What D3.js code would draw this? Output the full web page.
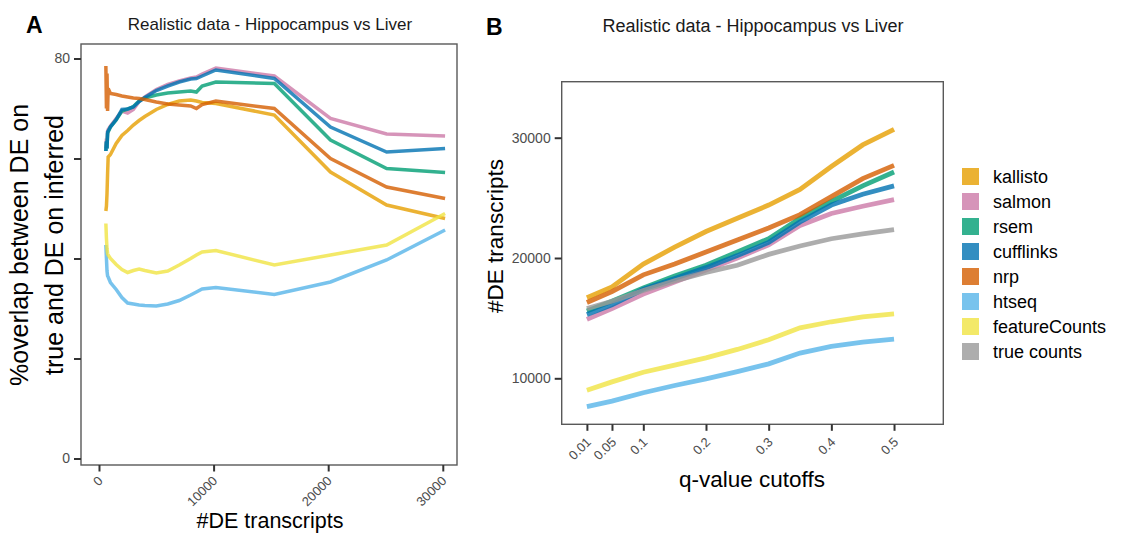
<!DOCTYPE html>
<meta charset="utf-8">
<head>
<style>
  body { margin: 0; background: #fff; }
  svg text { font-family: "Liberation Sans", Arial, Helvetica, sans-serif; }
  .tick text { fill: #4d4d4d; }
  .tick line { stroke: #333; stroke-width: 2; }
</style>
</head>
<body>
<script src="https://d3js.org/d3.v7.min.js"></script>
<script>

// ---- data ----
var methods = ["kallisto", "salmon", "rsem", "cufflinks", "nrp", "htseq", "featureCounts", "true counts"];
var colors  = ["#E69F00", "#CC79A7", "#009E73", "#0072B2", "#D55E00", "#56B4E9", "#F0E442", "#999999"];

// panel A: #DE transcripts vs % overlap
var deTranscripts = [600, 650, 700, 750, 800, 1000, 1500, 2000, 2500, 3000, 3500, 4000, 5000, 6000, 7000, 8000, 8500, 9000, 10200, 15300, 20200, 25100, 30200];
var overlapKallisto = [49.5, 50.5, 53, 57, 60.3, 60.8, 63, 64.6, 65.6, 66.7, 67.6, 68.4, 69.8, 70.8, 71.5, 71.7, 71.5, 71.2, 71.0, 68.7, 57.3, 50.7, 48.0];
var overlapSalmon   = [62, 64, 63, 65.5, 65.8, 66.5, 68, 69.5, 69.1, 69.8, 71.4, 72.3, 73.8, 74.8, 75.5, 76.1, 76.3, 76.9, 78.1, 76.5, 68.0, 64.9, 64.5];
var overlapRsem     = [61.5, 63.3, 62, 65, 65.3, 66.3, 67.7, 69.5, 69.9, 70.4, 71.5, 72.1, 72.7, 73.1, 73.3, 73.5, 73.3, 74.5, 75.3, 75.0, 63.7, 58.0, 57.2];
var overlapCuff     = [61.5, 63.5, 62, 65.3, 65.5, 66.3, 67.8, 69.8, 69.9, 70.3, 71.4, 72.2, 73.6, 74.5, 75.3, 75.9, 76.0, 76.5, 77.7, 76.0, 66.3, 61.3, 62.0];
var overlapNrp      = [78.5, 70, 77, 69.5, 74, 73, 72.8, 72.5, 72.3, 72.1, 72.0, 71.8, 71.3, 70.9, 70.7, 70.5, 70.0, 70.8, 71.5, 70.0, 60.0, 54.3, 52.0];
var overlapHtseq    = [42.7, 40, 37.5, 36.5, 36.3, 35.2, 33.8, 32.2, 31.1, 30.9, 30.7, 30.6, 30.5, 30.9, 31.6, 32.7, 33.3, 33.9, 34.2, 32.8, 35.3, 39.7, 45.7];
var overlapFC       = [47, 44, 42, 41, 40.7, 40, 38.8, 37.8, 37.2, 37.6, 37.9, 37.6, 37.1, 37.5, 38.7, 40.0, 40.7, 41.3, 41.6, 38.7, 40.7, 42.7, 49.0];

// panel B: q-value cutoff vs #DE transcripts
var qCutoffs = [0.01, 0.05, 0.1, 0.15, 0.2, 0.25, 0.3, 0.35, 0.4, 0.45, 0.5];
var deKallisto = [16700, 17600, 19500, 20900, 22200, 23300, 24400, 25700, 27600, 29400, 30700];
var deSalmon   = [14900, 15800, 17000, 18000, 19000, 20000, 21100, 22700, 23700, 24300, 24850];
var deRsem     = [15600, 16400, 17500, 18500, 19400, 20500, 21600, 23300, 24700, 26000, 27150];
var deCuff     = [15300, 16100, 17400, 18300, 19200, 20200, 21300, 23000, 24400, 25300, 26000];
var deNrp      = [16300, 17200, 18600, 19500, 20500, 21500, 22500, 23600, 25100, 26600, 27700];
var deHtseq    = [7650, 8100, 8800, 9400, 9950, 10550, 11200, 12100, 12650, 13000, 13250];
var deFC       = [9000, 9700, 10500, 11100, 11700, 12400, 13200, 14200, 14700, 15100, 15350];
var deTrue     = [15800, 16400, 17300, 18100, 18800, 19400, 20300, 21000, 21600, 22000, 22350];

var xTicksA = [0, 10000, 20000, 30000];
var yTicksA = [0, 20, 40, 60, 80];
var yTickLabelsA = ["0", "", "", "", "80"];
var xTicksB = [0.01, 0.05, 0.1, 0.2, 0.3, 0.4, 0.5];
var yTicksB = [10000, 20000, 30000];

var title = "Realistic data - Hippocampus vs Liver";

var seriesA = [overlapKallisto, overlapSalmon, overlapRsem, overlapCuff, overlapNrp, overlapHtseq, overlapFC];
var seriesB = [deKallisto, deSalmon, deRsem, deCuff, deNrp, deHtseq, deFC, deTrue];

var color = d3.scaleOrdinal().domain(methods).range(colors);

var svg = d3.select("body").append("svg")
    .attr("width", 1125)
    .attr("height", 533);

// ---- panel A ----
var pa = {left: 81, right: 457, top: 44, bottom: 465};
var xA = d3.scaleLinear().domain([-1570, 31240]).range([pa.left, pa.right]);
var yA = d3.scaleLinear().domain([-1.3, 82.9]).range([pa.bottom, pa.top]);

var gA = svg.append("g");

var lineA = d3.line()
    .x(function(d, i) { return xA(deTranscripts[i]); })
    .y(function(d) { return yA(d); });

gA.selectAll(".lineA")
    .data(seriesA)
    .enter().append("path")
    .attr("class", "lineA")
    .attr("d", lineA)
    .attr("fill", "none")
    .attr("stroke", function(d, i) { return color(methods[i]); })
    .attr("stroke-opacity", 0.8)
    .attr("stroke-width", 3.5);

gA.append("rect")
    .attr("x", pa.left).attr("y", pa.top)
    .attr("width", pa.right - pa.left).attr("height", pa.bottom - pa.top)
    .attr("fill", "none").attr("stroke", "#595959").attr("stroke-width", 1.4);

var axA_x = gA.append("g")
    .attr("transform", "translate(0," + pa.bottom + ")")
    .call(d3.axisBottom(xA).tickValues(xTicksA).tickSize(6.5).tickSizeOuter(0).tickFormat(d3.format("d")));
axA_x.select(".domain").remove();
axA_x.selectAll("text")
    .attr("y", null).attr("dy", "0.71em")
    .style("font-size", "13px")
    .style("text-anchor", "end")
    .attr("transform", "translate(-2.5,10) rotate(-45)");

var axA_y = gA.append("g")
    .attr("transform", "translate(" + pa.left + ",0)")
    .call(d3.axisLeft(yA).tickValues(yTicksA).tickSize(7).tickPadding(4).tickSizeOuter(0)
      .tickFormat(function(d, i) { return yTickLabelsA[i]; }));
axA_y.select(".domain").remove();
axA_y.selectAll("text").style("font-size", "14px");

gA.append("text")
    .attr("x", 270).attr("y", 30)
    .attr("text-anchor", "middle")
    .style("font-size", "17px").style("fill", "#1a1a1a")
    .text(title);

gA.append("text")
    .attr("x", 26).attr("y", 33)
    .style("font-size", "23px").style("font-weight", "bold")
    .text("A");

gA.append("text")
    .attr("transform", "translate(28,245) rotate(-90)")
    .attr("text-anchor", "middle")
    .style("font-size", "25px")
    .text("%overlap between DE on");
gA.append("text")
    .attr("transform", "translate(63,245) rotate(-90)")
    .attr("text-anchor", "middle")
    .style("font-size", "25px")
    .text("true and DE on inferred");

gA.append("text")
    .attr("x", 270).attr("y", 528)
    .attr("text-anchor", "middle")
    .style("font-size", "21.5px")
    .text("#DE transcripts");

// ---- panel B ----
var pb = {left: 561.7, right: 943.3, top: 81.7, bottom: 424.3};
var xB = d3.scaleLinear().domain([-0.0302, 0.5786]).range([pb.left, pb.right]);
var yB = d3.scaleLinear().domain([6176, 34655]).range([pb.bottom, pb.top]);

var gB = svg.append("g");

var lineB = d3.line()
    .x(function(d, i) { return xB(qCutoffs[i]); })
    .y(function(d) { return yB(d); });

gB.selectAll(".lineB")
    .data(seriesB)
    .enter().append("path")
    .attr("class", "lineB")
    .attr("d", lineB)
    .attr("fill", "none")
    .attr("stroke", function(d, i) { return color(methods[i]); })
    .attr("stroke-opacity", 0.8)
    .attr("stroke-width", 4.8);

gB.append("rect")
    .attr("x", pb.left).attr("y", pb.top)
    .attr("width", pb.right - pb.left).attr("height", pb.bottom - pb.top)
    .attr("fill", "none").attr("stroke", "#595959").attr("stroke-width", 1.4);

var axB_x = gB.append("g")
    .attr("transform", "translate(0," + pb.bottom + ")")
    .call(d3.axisBottom(xB).tickValues(xTicksB).tickSize(6.5).tickSizeOuter(0).tickFormat(function(d) { return String(d); }));
axB_x.select(".domain").remove();
axB_x.selectAll("text")
    .attr("y", null).attr("dy", "0.71em")
    .style("font-size", "13px")
    .style("text-anchor", "end")
    .attr("transform", "translate(-2,12) rotate(-45)");

var axB_y = gB.append("g")
    .attr("transform", "translate(" + pb.left + ",0)")
    .call(d3.axisLeft(yB).tickValues(yTicksB).tickSize(7).tickPadding(4).tickSizeOuter(0).tickFormat(d3.format("d")));
axB_y.select(".domain").remove();
axB_y.selectAll("text").style("font-size", "14px");

gB.append("text")
    .attr("x", 753).attr("y", 31.5)
    .attr("text-anchor", "middle")
    .style("font-size", "18px").style("fill", "#1a1a1a")
    .text(title);

gB.append("text")
    .attr("x", 486).attr("y", 35)
    .style("font-size", "23px").style("font-weight", "bold")
    .text("B");

gB.append("text")
    .attr("transform", "translate(503,236) rotate(-90)")
    .attr("text-anchor", "middle")
    .style("font-size", "22.5px")
    .text("#DE transcripts");

gB.append("text")
    .attr("x", 752).attr("y", 486.5)
    .attr("text-anchor", "middle")
    .style("font-size", "22.5px")
    .text("q-value cutoffs");

// legend
var legend = gB.selectAll(".legend")
    .data(methods)
    .enter().append("g")
    .attr("class", "legend")
    .attr("transform", function(d, i) { return "translate(962," + (168 + i * 25) + ")"; });

legend.append("rect")
    .attr("width", 17).attr("height", 17)
    .attr("fill", function(d) { return color(d); })
    .attr("fill-opacity", 0.8);

legend.append("text")
    .attr("x", 31).attr("y", 15)
    .style("font-size", "18px")
    .text(function(d) { return d; });

</script>
</body>
